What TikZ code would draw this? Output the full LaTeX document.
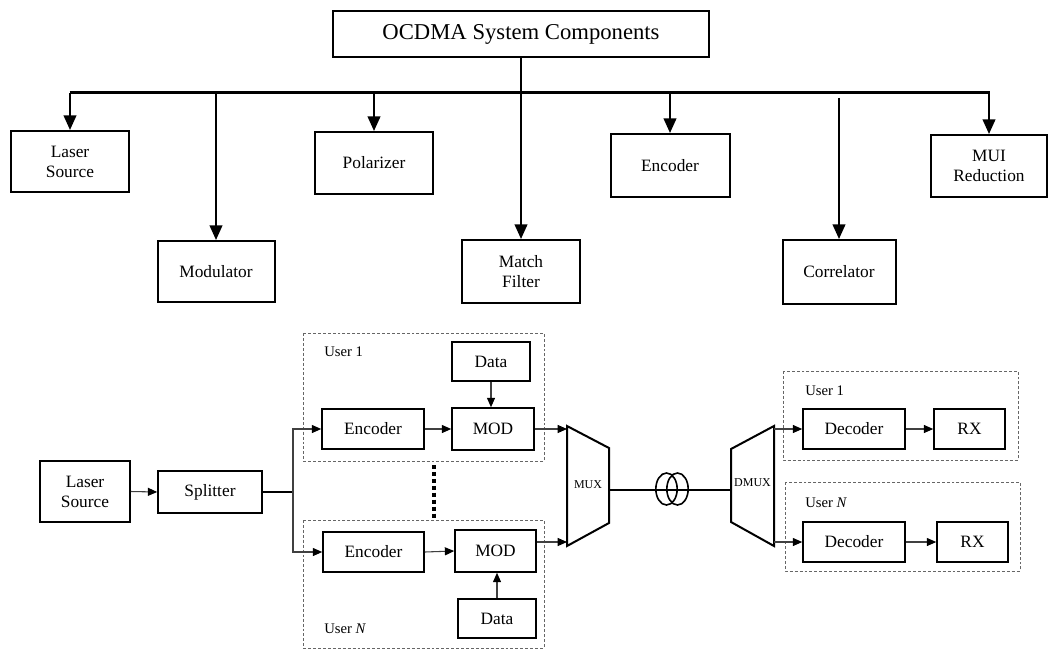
\documentclass[tikz,border=0pt]{standalone}
\usepackage{fontspec}
\setmainfont{Liberation Serif}
\usetikzlibrary{arrows.meta,calc}

\tikzset{
  wh/.style 2 args={minimum width=#1*0.75pt, minimum height=#2*0.75pt},
  box/.style={draw, line width=1.5pt, inner sep=0pt, align=center,
              font=\fontsize{13}{15}\selectfont},
  sbox/.style={draw, line width=1.2pt, inner sep=0pt, align=center,
               font=\fontsize{13}{15}\selectfont},
  bigarrow/.style={line width=1.5pt, -{Triangle[length=11pt,width=9.5pt]}},
  smallarrow/.style={line width=0.8pt, draw=black!75,
                     -{Triangle[length=7pt,width=6pt,color=black]}},
  userframe/.style={draw=black!60, line width=0.6pt, dash pattern=on 2.2pt off 1.5pt},
  userlabel/.style={anchor=west, inner sep=0pt, font=\fontsize{11}{13}\selectfont},
  muxlabel/.style={inner sep=0pt, font=\fontsize{9}{10}\selectfont},
  thick line/.style={line width=1.5pt},
}

\begin{document}
\begin{tikzpicture}[x=0.75pt,y=-0.75pt]
\useasboundingbox (0,0) rectangle (1049,650);

% ---------------- component tree ----------------
\node[box, wh={376}{46}, font=\fontsize{17}{20}\selectfont] (title) at (521,34) {OCDMA System Components};

\node[box, wh={118}{61}] (laser)  at (70,161.5)  {Laser\\Source};
\node[box, wh={117}{61}] (modul)  at (216,271.5) {Modulator};
\node[box, wh={118}{62}] (polar)  at (374,163)   {Polarizer};
\node[box, wh={118}{63}] (match)  at (521,271.5) {Match\\Filter};
\node[box, wh={119}{63}] (encod)  at (670,165.5) {Encoder};
\node[box, wh={113}{64}] (correl) at (839,272)   {Correlator};
\node[box, wh={116}{62}] (mui)    at (989,166)   {MUI\\Reduction};

\coordinate (barL) at (69.5,92.5);
\coordinate (barR) at (989.5,92.5);
\draw[line width=2pt] (barL) -- (barR);

\draw[bigarrow] (title.south) -- (match.north);
\draw[bigarrow] (laser.north |- barL) -- (laser.north);
\draw[bigarrow] (modul.north |- barL) -- (modul.north);
\draw[bigarrow] (polar.north |- barL) -- (polar.north);
\draw[bigarrow] (encod.north |- barL) -- (encod.north);
\draw[bigarrow] ([yshift=-4pt]correl.north |- barL) -- (correl.north);
\draw[bigarrow] (mui.north |- barL) -- (mui.north);

% ---------------- transmitter side ----------------
\draw[userframe] (303,333) rectangle (544,461);
\draw[userframe] (303,520) rectangle (544,648);
\node[userlabel] (u1lbl) at (324,352) {User 1};
\node[userlabel] (unlbl) at (324,629) {User \textit{N}};

\node[sbox, wh={90}{61}]  (laserB)   at (85,491.5)  {Laser\\Source};
\node[sbox, wh={104}{42}] (splitter) at (210,492)   {Splitter};
\node[sbox, wh={102}{40}] (enc1)     at (373,429)   {Encoder};
\node[sbox, wh={82}{42}]  (mod1)     at (493,429)   {MOD};
\node[sbox, wh={78}{39}]  (data1)    at (491,361.5) {Data};
\node[sbox, wh={101}{40}] (encN)     at (373.5,552) {Encoder};
\node[sbox, wh={81}{42}]  (modN)     at (495.5,551) {MOD};
\node[sbox, wh={78}{39}]  (dataN)    at (497,618.5) {Data};

\coordinate (fork) at (293,492);
\draw[smallarrow] (laserB.east) -- (splitter.west);
\draw[line width=1pt] (splitter.east) -- (fork);
\draw[smallarrow] (fork) |- (enc1.west);
\draw[smallarrow] (fork) |- (encN.west);
\draw[smallarrow] (enc1.east) -- (mod1.west);
\draw[smallarrow] (encN.east) -- (modN.west);
\draw[smallarrow] (data1.south) -- (data1.south |- mod1.north);
\draw[smallarrow] (dataN.north) -- (dataN.north |- modN.south);

% ellipsis between the user branches
\coordinate (dotsT) at (434,465);
\coordinate (dotsB) at (434,520);
\draw[line width=3pt, dash pattern=on 3pt off 2.2pt] (dotsT) -- (dotsB);

% ---------------- multiplexer, fibre, demultiplexer ----------------
\draw[thick line] (567,426) -- (609,448) -- (609,523) -- (567,546) -- cycle;
\node[muxlabel] (mux) at (588,485) {MUX};
\coordinate (muxin1) at (567,429);
\coordinate (muxinN) at (567,542);
\coordinate (muxout) at (609,490);

\draw[thick line] (731,449) -- (774,426) -- (774,546) -- (731,522) -- cycle;
\node[muxlabel] (dmux) at (752.5,483) {DMUX};
\coordinate (dmuxin)   at (731,490);
\coordinate (dmuxout1) at (774,429);
\coordinate (dmuxoutN) at (774,542);

\draw[smallarrow] (mod1.east) -- (muxin1);
\draw[smallarrow] (modN.east |- muxinN) -- (muxinN);

\draw[thick line] (muxout) -- (dmuxin);
% fibre spool
\draw[line width=1.2pt] (666.5,489) ellipse [x radius=8pt, y radius=12pt];
\draw[line width=1.2pt] (677.5,489) ellipse [x radius=8pt, y radius=12pt];

% ---------------- receiver side ----------------
\draw[userframe] (783,371) rectangle (1018,460);
\draw[userframe] (785,482) rectangle (1020,571);
\node[userlabel] (r1lbl) at (805,391) {User 1};
\node[userlabel] (rnlbl) at (805,503) {User \textit{N}};

\node[sbox, wh={102}{40}] (dec1) at (854,429)   {Decoder};
\node[sbox, wh={71}{40}]  (rx1)  at (969.5,429) {RX};
\node[sbox, wh={102}{40}] (decN) at (854,542)   {Decoder};
\node[sbox, wh={71}{40}]  (rxN)  at (972.5,542) {RX};

\draw[smallarrow] (dmuxout1) -- (dec1.west);
\draw[smallarrow] (dmuxoutN) -- (decN.west);
\draw[smallarrow] (dec1.east) -- (rx1.west);
\draw[smallarrow] (decN.east) -- (rxN.west);
\end{tikzpicture}
\end{document}
